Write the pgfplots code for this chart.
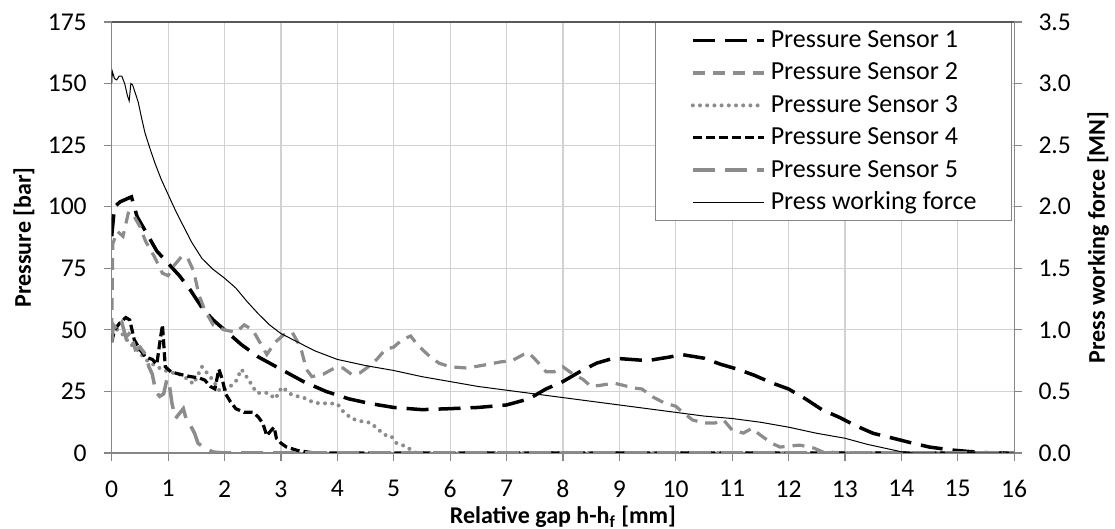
\documentclass[border=0pt]{standalone}
\usepackage{fontspec}
\setmainfont{Carlito}
\usepackage{pgfplots}
\pgfplotsset{compat=1.18}
\definecolor{sgray}{RGB}{140,140,140}
\definecolor{gridc}{RGB}{210,210,210}
\definecolor{axc}{RGB}{134,134,134}
\definecolor{topc}{RGB}{89,89,89}
\tikzset{
  sone/.style={black, line width=1.75bp, dash pattern=on 11bp off 5bp},
  stwo/.style={sgray, line width=1.6bp, dash pattern=on 6bp off 4bp},
  sthree/.style={sgray, line width=2bp, line cap=round, dash pattern=on 0bp off 3.6bp},
  sfour/.style={black, line width=1.6bp, dash pattern=on 4.5bp off 2bp},
  sfive/.style={sgray, line width=1.75bp, dash pattern=on 11bp off 5bp},
  sforce/.style={black, line width=0.5bp},
}
\begin{document}
\begin{tikzpicture}[font=\fontsize{12.8bp}{15bp}\selectfont]
\useasboundingbox (0,0) rectangle (557.5bp,264.5bp);
\begin{axis}[
  at={(55.85bp,38bp)}, anchor=south west,
  scale only axis, width=451.2bp, height=215.5bp,
  xmin=0, xmax=16, ymin=0, ymax=175,
  xtick={0,1,...,16}, ytick={0,25,...,175},
  xtick pos=bottom, ytick pos=left,
  axis line style={draw=axc, line width=0.6bp},
  tick align=outside, major tick length=4bp,
  tick style={draw=axc, line width=0.6bp},
  grid=major, major grid style={draw=gridc, line width=0.6bp},
  /pgf/number format/assume math mode=true,
  xticklabel style={anchor=north, inner sep=0pt, yshift=-9.5bp},
  yticklabel style={anchor=east, inner sep=0pt, xshift=-8.3bp},
  xlabel={Relative gap h-h\textsubscript{f} [mm]},
  ylabel={Pressure [bar]},
  xlabel style={font=\fontsize{12bp}{14bp}\selectfont\bfseries, at={(axis description cs:0.5,-0.1485)}, anchor=center},
  ylabel style={font=\fontsize{12bp}{14bp}\selectfont\bfseries, at={(axis description cs:-0.0972,0.5)}, anchor=center},
  legend style={at={(1,1)}, anchor=north east, xshift=-1bp, draw=axc, line width=0.6bp, fill=white,
    font=\fontsize{13bp}{15bp}\selectfont, inner xsep=17.5bp, inner ysep=3bp,
    nodes={inner sep=0pt, text height=9.5bp, text depth=2.5bp}, row sep=4.2bp, column sep=2.5bp},
  legend cell align=left,
  legend image code/.code={\draw[#1] (0bp,0bp) -- (35.5bp,0bp);},
]
\addplot[sone] coordinates {(0,88) (0.05,100) (0.15,102) (0.25,103) (0.35,104) (0.45,96) (0.6,90) (0.8,82) (1.0,77) (1.2,72) (1.4,66) (1.6,59) (1.8,54) (2.0,50) (2.3,44) (2.6,39) (3.0,34) (3.4,29) (3.8,25) (4.2,22) (4.6,20) (5.0,18.5) (5.5,17.6) (6.0,18) (6.5,18.5) (7.0,19.5) (7.4,22) (7.7,26) (8.0,29) (8.3,33) (8.6,36.5) (8.9,38.5) (9.2,38) (9.5,37.5) (9.9,39) (10.1,40) (10.5,38.5) (10.8,36) (11.1,34) (11.4,31.5) (11.7,28.5) (12.0,26) (12.3,22) (12.6,17.5) (12.9,14.5) (13.2,11) (13.5,8) (13.8,6.3) (14.2,4) (14.5,2.4) (14.9,1.2) (15.2,0.6) (15.6,0) (16,0)};
\addlegendentry{Pressure Sensor 1}
\addplot[stwo] coordinates {(0,50) (0.02,85) (0.1,90) (0.2,88) (0.3,98) (0.4,96) (0.5,92) (0.6,86) (0.75,80) (0.9,73) (1.0,72) (1.1,76) (1.25,80) (1.35,79) (1.45,74) (1.55,64) (1.65,58) (1.8,52) (2.0,50) (2.2,49) (2.35,52) (2.5,50) (2.65,44) (2.75,40) (2.9,45) (3.05,48) (3.2,49) (3.35,43) (3.45,34) (3.55,31) (3.75,32) (3.95,34.5) (4.1,34.5) (4.25,32) (4.4,32.5) (4.55,35) (4.7,38) (4.85,42) (5.0,43) (5.15,46) (5.3,47.5) (5.42,44) (5.6,40) (5.8,36.5) (6.0,35) (6.3,34.5) (6.6,35.7) (6.9,37) (7.1,37.5) (7.3,40) (7.4,40.6) (7.55,37) (7.7,33) (7.85,33) (8.0,35) (8.2,31.7) (8.35,30) (8.5,27) (8.7,27.6) (8.9,28.4) (9.05,27.6) (9.25,26.4) (9.4,26) (9.6,22.7) (9.8,20.3) (10.0,19) (10.1,17) (10.3,13.4) (10.5,12.2) (10.7,12.2) (10.85,13.4) (11.0,9.3) (11.2,8.1) (11.35,10) (11.5,7.3) (11.7,4) (11.85,2.4) (12.0,2.8) (12.2,3.2) (12.45,2) (12.6,0.5) (13,0) (16,0)};
\addlegendentry{Pressure Sensor 2}
\addplot[sthree] coordinates {(0,52) (0.1,50) (0.2,48) (0.3,45) (0.45,42) (0.6,38) (0.8,35) (1.0,33) (1.2,32) (1.35,30) (1.45,28) (1.6,35) (1.78,30) (1.92,25) (2.05,26) (2.2,29) (2.3,34) (2.42,30) (2.57,24.4) (2.77,24.4) (2.9,22) (3.02,26.8) (3.2,23.5) (3.4,22.5) (3.6,20.3) (4.0,20) (4.1,17) (4.25,14) (4.4,13) (4.6,12.2) (4.7,10) (4.85,7.3) (4.95,7) (5.05,4) (5.2,2.8) (5.4,0) (16,0)};
\addlegendentry{Pressure Sensor 3}
\addplot[sfour] coordinates {(0,45) (0.05,50) (0.15,53) (0.25,55) (0.32,54) (0.4,46) (0.5,42) (0.6,39) (0.72,38) (0.8,36) (0.86,46) (0.9,52) (0.95,35) (1.05,33) (1.2,32) (1.4,31) (1.55,30.5) (1.65,29.6) (1.75,27) (1.83,26) (1.9,34) (1.96,30) (2.02,24) (2.1,21) (2.2,18) (2.35,16.5) (2.5,16.6) (2.6,14.6) (2.68,12) (2.75,7) (2.82,9) (2.88,10.5) (2.92,6) (3.0,4) (3.1,2.4) (3.3,1) (3.5,0.3) (3.6,0) (16,0)};
\addlegendentry{Pressure Sensor 4}
\addplot[sfive] coordinates {(0,45) (0.03,52) (0.1,50) (0.18,53) (0.25,47) (0.33,49) (0.42,42) (0.5,43) (0.6,40) (0.66,35) (0.72,32) (0.78,25) (0.85,23) (0.92,24) (0.98,30) (1.02,28) (1.07,20) (1.13,14) (1.2,16) (1.27,18) (1.33,13) (1.4,11) (1.47,8) (1.53,4) (1.65,2) (1.8,0.4) (2.0,0) (16,0)};
\addlegendentry{Pressure Sensor 5}
\addlegendimage{sforce}
\addlegendentry{Press working force}
\end{axis}
\begin{axis}[
  at={(55.85bp,38bp)}, anchor=south west,
  scale only axis, width=451.2bp, height=215.5bp,
  xmin=0, xmax=16, ymin=0, ymax=3.5,
  xtick=\empty, ytick={0,0.5,...,3.5}, ytick pos=right,
  axis line style={draw=none},
  extra y ticks={3.5}, extra y tick labels={},
  extra y tick style={grid=major, major grid style={draw=topc, line width=1.1bp}, major tick length=0pt},
  tick align=outside, major tick length=4bp,
  tick style={draw=axc, line width=0.6bp},
  /pgf/number format/assume math mode=true,
  /pgf/number format/.cd, fixed, fixed zerofill, precision=1, /pgfplots/.cd,
  yticklabel style={anchor=west, inner sep=0pt, xshift=8bp},
  ylabel={Press working force [MN]},
  ylabel style={font=\fontsize{12bp}{14bp}\selectfont\bfseries, at={(axis description cs:1.0931,0.5)}, anchor=center},
]
\addplot[sforce] coordinates {(0,3.00) (0.01,3.10) (0.05,3.04) (0.09,3.03) (0.13,3.06) (0.18,3.06) (0.23,3.00) (0.28,2.90) (0.31,2.86) (0.34,3.00) (0.37,2.99) (0.42,2.92) (0.47,2.85) (0.53,2.72) (0.59,2.60) (0.68,2.47) (0.77,2.35) (0.88,2.22) (1.0,2.10) (1.12,1.98) (1.24,1.87) (1.42,1.71) (1.6,1.58) (1.8,1.49) (2.0,1.42) (2.2,1.34) (2.4,1.23) (2.6,1.13) (2.8,1.04) (3.0,0.97) (3.3,0.90) (3.6,0.83) (4.0,0.76) (4.5,0.71) (5.0,0.67) (5.5,0.62) (6.0,0.58) (6.5,0.54) (7.0,0.51) (7.5,0.48) (8.0,0.45) (8.5,0.42) (9.0,0.39) (9.5,0.36) (10.0,0.33) (10.5,0.30) (11.0,0.28) (11.5,0.25) (12.0,0.21) (12.5,0.16) (13.0,0.12) (13.4,0.07) (13.7,0.04) (14.0,0.01) (14.2,0.00) (16.0,0.00)};
\end{axis}
\end{tikzpicture}
\end{document}
